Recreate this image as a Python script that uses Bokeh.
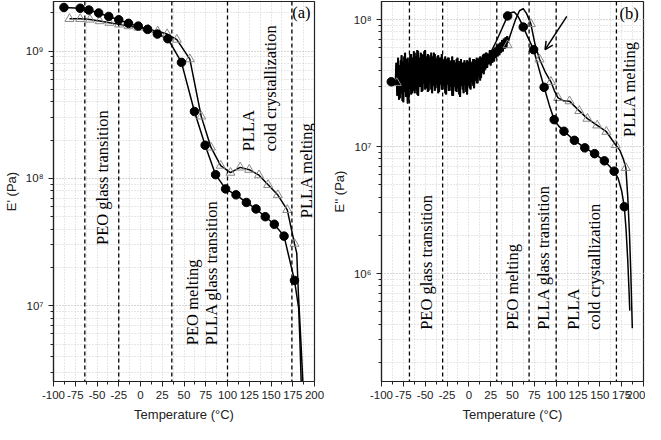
import math
from bokeh.plotting import figure
from bokeh.layouts import row
from bokeh.models import (Span, Arrow, OpenHead, FixedTicker, LogTicker,
                          CustomJSTickFormatter, Label, Range1d)
from bokeh.embed import file_html
from bokeh.resources import INLINE

# ---------------- data ----------------
x_ticks = [-100, -75, -50, -25, 0, 25, 50, 75, 100, 125, 150, 175, 200]
x_minor = [-87.5, -62.5, -37.5, -12.5, 12.5, 37.5, 62.5, 87.5, 112.5, 137.5, 162.5, 187.5]

# panel (a): E'
a_circ_T = [-88, -69.3, -59.3, -48.1, -36.5, -25, -13.8, -2.6, 8.2, 19.4, 31.4, 47.1,
            62, 74.3, 86.3, 97.8, 109.8, 121.7, 132.8, 143.4, 153.8, 165, 177]
a_circ_E = [2.2e9, 2.17e9, 2.1e9, 1.99e9, 1.87e9, 1.76e9, 1.65e9, 1.57e9, 1.48e9, 1.36e9,
            1.25e9, 8.15e8, 3.35e8, 1.82e8, 1.07e8, 8.27e7, 7.43e7, 6.47e7, 5.76e7, 5.0e7,
            4.36e7, 3.52e7, 1.58e7]
a_circ_tail_T = [181.8, 183.2, 184.8]
a_circ_tail_E = [9.55e6, 5.37e6, 2.4e6]

a_tri_T = [-81.6, -69.3, -58.1, -46.9, -35.7, -24.5, -13.8, -2.6, 9.0, 19.8, 30.6, 41.8,
           56.7, 69.8, 81, 92.2, 103.4, 114.6, 125, 136.2, 146.7, 157.9, 168.7, 177]
a_tri_E = [1.79e9, 1.79e9, 1.77e9, 1.72e9, 1.67e9, 1.62e9, 1.57e9, 1.53e9, 1.48e9, 1.43e9,
           1.36e9, 1.23e9, 8.64e8, 3.07e8, 1.75e8, 1.26e8, 1.11e8, 1.22e8, 1.17e8, 1.06e8,
           8.9e7, 7.4e7, 5.66e7, 3.07e7]
a_tri_tail_T = [179.6, 181.4, 184.3, 186.8]
a_tri_tail_E = [2.59e7, 1.28e7, 5.32e6, 2.4e6]

a_dash = [-64, -25, 36, 100, 174]

# panel (b): E''
b_circ_mk_T = [-88.8, 20.1, 44.4, 62.3, 74.2, 86.2, 97.7, 108.9, 120.9, 132.8, 144, 155.2, 166.4, 178]
b_circ_mk_E = [3.24e7, 5.0e7, 1.07e8, 8.75e7, 5.8e7, 2.93e7, 1.63e7, 1.32e7, 1.12e7, 9.77e6,
               8.8e6, 7.72e6, 6.4e6, 3.36e6]
# noisy segment (log10 E'') read at 1 degree steps, T = -84 ... 19
b_circ_noise_T = list(range(-84, 20))
b_circ_noise_logE = [
    7.48, 7.66, 7.40, 7.70, 7.37, 7.64, 7.45, 7.72, 7.36, 7.67,
    7.43, 7.74, 7.39, 7.69, 7.34, 7.66, 7.46, 7.73, 7.41, 7.70,
    7.44, 7.75, 7.42, 7.71, 7.48, 7.76, 7.40, 7.70, 7.47, 7.74,
    7.43, 7.72, 7.50, 7.75, 7.45, 7.71, 7.49, 7.73, 7.44, 7.70,
    7.51, 7.74, 7.42, 7.71, 7.48, 7.73, 7.46, 7.69, 7.50, 7.72,
    7.43, 7.70, 7.49, 7.73, 7.45, 7.68, 7.48, 7.71, 7.41, 7.69,
    7.50, 7.70, 7.44, 7.67, 7.47, 7.71, 7.40, 7.68, 7.49, 7.66,
    7.43, 7.70, 7.46, 7.67, 7.39, 7.69, 7.48, 7.66, 7.42, 7.68,
    7.49, 7.66, 7.41, 7.67, 7.48, 7.70, 7.45, 7.66, 7.51, 7.69,
    7.46, 7.68, 7.52, 7.70, 7.50, 7.69, 7.55, 7.71, 7.54, 7.70,
    7.59, 7.73, 7.60, 7.71]
b_circ_smooth_T = [20.1, 25, 31.3, 38, 44.4, 48, 52, 56, 59, 62.3, 67, 74.2, 80, 86.2, 92, 97.7,
                   103, 108.9, 120.9, 132.8, 144, 155.2, 166.4, 171, 175, 178, 180, 182, 183.5, 184.3]
b_circ_smooth_E = [5.0e7, 5.5e7, 6.73e7, 8.51e7, 1.07e8, 1.135e8, 1.15e8, 1.07e8, 9.77e7, 8.75e7,
                   7.41e7, 5.8e7, 4.17e7, 2.93e7, 2.14e7, 1.63e7, 1.45e7, 1.32e7, 1.12e7, 9.77e6,
                   8.8e6, 7.72e6, 6.4e6, 5.62e6, 4.47e6, 3.36e6, 2.24e6, 1.26e6, 7.08e5, 5.1e5]

b_tri_mk_T = [-82.5, 44.4, 71, 81, 94, 102.2, 115.3, 126.5, 135.8, 147, 157.5, 168.2, 179.8]
b_tri_mk_E = [3.18e7, 6.3e7, 9.27e7, 4.87e7, 3.24e7, 2.42e7, 2.28e7, 1.91e7, 1.66e7, 1.47e7,
              1.31e7, 1.03e7, 6.8e6]
b_tri_noise_T = list(range(-81, 46))
b_tri_noise_logE = [
    7.46, 7.62, 7.38, 7.68, 7.42, 7.60, 7.35, 7.71, 7.44, 7.63,
    7.39, 7.70, 7.37, 7.62, 7.47, 7.73, 7.42, 7.66, 7.50, 7.74,
    7.45, 7.68, 7.41, 7.75, 7.48, 7.67, 7.52, 7.73, 7.44, 7.70,
    7.50, 7.76, 7.46, 7.69, 7.43, 7.72, 7.51, 7.70, 7.45, 7.69,
    7.52, 7.74, 7.44, 7.66, 7.49, 7.71, 7.42, 7.67, 7.53, 7.70,
    7.45, 7.68, 7.50, 7.69, 7.42, 7.65, 7.49, 7.70, 7.44, 7.64,
    7.51, 7.68, 7.40, 7.65, 7.47, 7.63, 7.44, 7.69, 7.50, 7.64,
    7.41, 7.67, 7.48, 7.63, 7.45, 7.66, 7.49, 7.64, 7.43, 7.68,
    7.51, 7.63, 7.46, 7.67, 7.52, 7.64, 7.48, 7.69, 7.53, 7.65,
    7.50, 7.68, 7.55, 7.70, 7.52, 7.69, 7.58, 7.72, 7.57, 7.71,
    7.61, 7.74, 7.62, 7.72, 7.65, 7.76, 7.64, 7.75, 7.66, 7.77,
    7.67, 7.78, 7.70, 7.80, 7.71, 7.81, 7.72, 7.82, 7.74, 7.84,
    7.75, 7.85, 7.77, 7.86, 7.78, 7.87, 7.82]
b_tri_smooth_T = [47, 50, 53.7, 58, 62.3, 66, 71, 76, 81, 88, 94, 98, 102.2, 108, 115.3, 126.5,
                  135.8, 147, 157.5, 168.2, 173, 177, 179.8, 182, 184, 185.5, 186.5, 187.2]
b_tri_smooth_E = [7.41e7, 8.51e7, 1.01e8, 1.175e8, 1.22e8, 1.12e8, 9.27e7, 6.31e7, 4.87e7, 3.8e7,
                  3.24e7, 2.75e7, 2.42e7, 2.3e7, 2.28e7, 1.91e7, 1.66e7, 1.47e7, 1.31e7, 1.03e7,
                  9.33e6, 7.94e6, 6.8e6, 3.98e6, 2.0e6, 1.0e6, 5.6e5, 3.7e5]

b_dash = [-68, -30, 32, 69, 100, 169]

# ---------------- styling helpers ----------------
SERIF = "Liberation Serif"
SANS = "Liberation Sans"
ANN_SIZE = "16.5px"
TICK_SIZE = "11.5px"

sup_js = """
const sup = {'0':'\u2070','1':'\u00b9','2':'\u00b2','3':'\u00b3','4':'\u2074','5':'\u2075',
             '6':'\u2076','7':'\u2077','8':'\u2078','9':'\u2079','-':'\u207b'};
const e = Math.round(Math.log10(tick));
return '10' + String(e).split('').map(c => sup[c]).join('');
"""


def make_fig(width, y_lo, y_hi, ylabel, mb_left, mb_right):
    p = figure(width=width, height=424, y_axis_type="log",
               x_range=Range1d(-100, 200), y_range=Range1d(y_lo, y_hi),
               output_backend="svg", toolbar_location=None,
               min_border_left=mb_left, min_border_right=mb_right,
               min_border_top=1, min_border_bottom=38)
    p.background_fill_color = "white"
    p.border_fill_color = "white"
    p.outline_line_color = "#222222"
    p.outline_line_width = 1.2

    p.xaxis.ticker = FixedTicker(ticks=x_ticks, minor_ticks=x_minor)
    p.xaxis.formatter = CustomJSTickFormatter(code="return tick.toString();")
    p.yaxis.ticker = LogTicker(desired_num_ticks=4, num_minor_ticks=10)
    p.yaxis.formatter = CustomJSTickFormatter(code=sup_js)

    for ax in (p.xaxis[0], p.yaxis[0]):
        ax.axis_line_color = "#222222"
        ax.axis_line_width = 1.2
        ax.major_tick_line_color = "#222222"
        ax.minor_tick_line_color = "#222222"
        ax.major_tick_in = 0
        ax.major_tick_out = 5
        ax.minor_tick_in = 0
        ax.minor_tick_out = 3
        ax.major_label_text_font = SANS
        ax.major_label_text_font_size = TICK_SIZE
        ax.major_label_text_color = "#222222"
        ax.axis_label_text_font = SANS
        ax.axis_label_text_font_size = "13px"
        ax.axis_label_text_font_style = "normal"
        ax.axis_label_text_color = "#222222"
    p.xaxis.axis_label = "Temperature (\u00b0C)"
    p.yaxis.axis_label = ylabel
    p.xaxis.major_label_standoff = 4
    p.xaxis.axis_label_standoff = 5
    p.yaxis.major_label_standoff = 5
    p.yaxis.axis_label_standoff = 4

    for g in (p.xgrid[0], p.ygrid[0]):
        g.grid_line_color = "#cfcfcf"
        g.grid_line_dash = "1 2"
        g.grid_line_width = 1
        g.minor_grid_line_color = "#cfcfcf"
        g.minor_grid_line_dash = "1 2"
        g.minor_grid_line_width = 1
    return p


def vlines(p, locs):
    for t in locs:
        p.add_layout(Span(location=t, dimension="height", line_color="black",
                          line_dash="4 3", line_width=1.3))


def vtext(p, x, y, txt, size=ANN_SIZE):
    p.add_layout(Label(x=x, y=y, text=txt, angle=math.pi / 2, text_align="left",
                       text_baseline="middle", text_font=SERIF,
                       text_font_size=size, text_color="black"))


# ---------------- panel (a) ----------------
pa = make_fig(328, 2.54e6, 2.45e9, "E' (Pa)", 46, 14)
vlines(pa, a_dash)
pa.line(a_circ_T + a_circ_tail_T, a_circ_E + a_circ_tail_E, line_color="black", line_width=1.5)
pa.line(a_tri_T + a_tri_tail_T, a_tri_E + a_tri_tail_E, line_color="black", line_width=1.5)
pa.scatter(a_tri_T, a_tri_E, marker="triangle", size=9, fill_alpha=0,
           line_color="#8a8a8a", line_width=1)
pa.scatter(a_circ_T, a_circ_E, marker="circle", size=8.5, fill_color="black", line_color="black")

vtext(pa, -44, 3.0e7, "PEO glass transition")
vtext(pa, 59.4, 4.9e6, "PEO melting")
vtext(pa, 81.8, 4.9e6, "PLLA glass transition")
vtext(pa, 124.7, 1.63e8, "PLLA")
vtext(pa, 149, 1.63e8, "cold crystallization")
vtext(pa, 190.5, 4.87e7, "PLLA melting")
pa.add_layout(Label(x=185, y=2.02e9, text="(a)", text_align="center", text_baseline="middle",
                    text_font=SERIF, text_font_size=ANN_SIZE, text_color="black"))

# ---------------- panel (b) ----------------
pb = make_fig(317, 1.41e5, 1.39e8, "E'' (Pa)", 47, 2)
vlines(pb, b_dash)
b_circ_line_T = [b_circ_mk_T[0]] + b_circ_noise_T + b_circ_smooth_T
b_circ_line_E = [b_circ_mk_E[0]] + [10 ** v for v in b_circ_noise_logE] + b_circ_smooth_E
b_tri_line_T = [b_tri_mk_T[0]] + b_tri_noise_T + b_tri_smooth_T
b_tri_line_E = [b_tri_mk_E[0]] + [10 ** v for v in b_tri_noise_logE] + b_tri_smooth_E
pb.line(b_circ_line_T, b_circ_line_E, line_color="black", line_width=1.5)
pb.line(b_tri_line_T, b_tri_line_E, line_color="black", line_width=1.5)
pb.line(b_circ_noise_T, [10 ** v for v in b_circ_noise_logE], line_color="black", line_width=2)
pb.line(b_tri_noise_T, [10 ** v for v in b_tri_noise_logE], line_color="black", line_width=2)
pb.scatter(b_tri_mk_T, b_tri_mk_E, marker="triangle", size=9, fill_alpha=0,
           line_color="#8a8a8a", line_width=1)
pb.scatter(b_circ_mk_T, b_circ_mk_E, marker="circle", size=8.5, fill_color="black", line_color="black")

pb.add_layout(Arrow(end=OpenHead(size=8, line_width=1.5, line_color="black"),
                    x_start=112.2, y_start=1.06e8, x_end=87.3, y_end=5.8e7,
                    line_color="black", line_width=1.5))

vtext(pb, -49, 3.6e5, "PEO glass transition")
vtext(pb, 50, 3.6e5, "PEO melting")
vtext(pb, 85.4, 3.6e5, "PLLA glass transition")
vtext(pb, 120.1, 3.6e5, "PLLA")
vtext(pb, 144, 3.6e5, "cold crystallization")
vtext(pb, 184.3, 1.19e7, "PLLA melting")
pb.add_layout(Label(x=183.6, y=1.12e8, text="(b)", text_align="center", text_baseline="middle",
                    text_font=SERIF, text_font_size=ANN_SIZE, text_color="black"))

layout = row(pa, pb)
open("out.html", "w").write(file_html(layout, INLINE))
